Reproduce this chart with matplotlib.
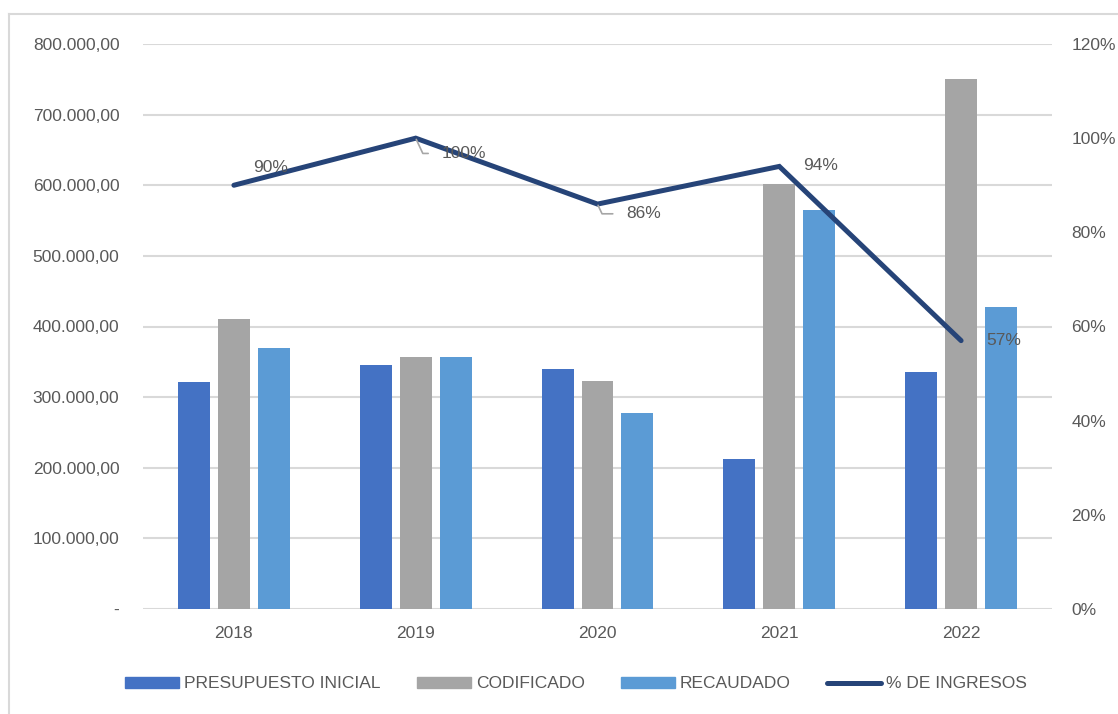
import matplotlib.pyplot as plt
import matplotlib.ticker as mticker
from matplotlib.lines import Line2D
import numpy as np

plt.rcParams['font.family'] = ['Liberation Sans', 'DejaVu Sans']

years = ['2018', '2019', '2020', '2021', '2022']
presupuesto = [321000, 345000, 339500, 212000, 335500]
codificado = [410000, 357500, 323000, 601500, 750500]
recaudado = [370000, 357500, 277500, 564500, 428000]
pct_ingresos = [0.90, 1.00, 0.86, 0.94, 0.57]

c_pi = '#4472C4'
c_cod = '#A5A5A5'
c_rec = '#5B9BD5'
c_line = '#264478'
txt = '#595959'
grid = '#D9D9D9'

fs = 12.5


def money_fmt(v, pos):
    if v == 0:
        return '-'
    s = f"{v:,.2f}"
    return s.replace(',', 'X').replace('.', ',').replace('X', '.')


fig = plt.figure(figsize=(11.18, 7.14), dpi=100)
ax = fig.add_axes([143 / 1118, 1 - 609 / 714, (1052 - 143) / 1118, (609 - 44) / 714])
ax2 = ax.twinx()

x = np.arange(len(years))
w = 0.176
step = 0.22
ax.bar(x - step, presupuesto, w, color=c_pi, zorder=2)
ax.bar(x, codificado, w, color=c_cod, zorder=2)
ax.bar(x + step, recaudado, w, color=c_rec, zorder=2)

ax.set_xlim(-0.5, len(years) - 0.5)
ax.set_ylim(0, 800000)
ax.set_yticks(np.arange(0, 800001, 100000))
ax.yaxis.set_major_formatter(mticker.FuncFormatter(money_fmt))
ax.set_xticks(x)
ax.set_xticklabels(years)
ax.grid(axis='y', color=grid, linewidth=1.5, zorder=0)
ax.tick_params(axis='both', length=0, labelsize=fs, colors=txt)
ax.tick_params(axis='y', pad=17)
ax.tick_params(axis='x', pad=12)
for sp in ax.spines.values():
    sp.set_visible(False)

ax2.plot(x, pct_ingresos, color=c_line, linewidth=3.6, solid_capstyle='round',
         solid_joinstyle='miter', zorder=3)
ax2.set_ylim(0, 1.2)
ax2.set_yticks(np.arange(0, 1.21, 0.2))
ax2.yaxis.set_major_formatter(mticker.PercentFormatter(1.0, decimals=0))
ax2.tick_params(axis='y', length=0, labelsize=fs, colors=txt, pad=14)
for sp in ax2.spines.values():
    sp.set_visible(False)

# data labels (offsets in points), leader lines on 2019 and 2020
offsets = [(14, 13), (19, -11), (21, -7), (17, 1), (18, 0)]
leaders = [False, True, True, False, False]
for i, v in enumerate(pct_ingresos):
    kw = {}
    if leaders[i]:
        kw['arrowprops'] = dict(arrowstyle='-', color='#A6A6A6', lw=1.2,
                                shrinkA=8, shrinkB=1, relpos=(0, 0.5),
                                connectionstyle='angle,angleA=0,angleB=-65,rad=0')
    ax2.annotate(f"{v:.0%}", xy=(i, v), xytext=offsets[i], textcoords='offset points',
                 ha='left', va='center', fontsize=fs, color=txt, zorder=4, **kw)

handles = [
    plt.Rectangle((0, 0), 1, 1, color=c_pi),
    plt.Rectangle((0, 0), 1, 1, color=c_cod),
    plt.Rectangle((0, 0), 1, 1, color=c_rec),
    Line2D([0], [0], color=c_line, linewidth=3.6, solid_capstyle='round'),
]
labels = ['PRESUPUESTO INICIAL', 'CODIFICADO', 'RECAUDADO', '% DE INGRESOS']
leg = fig.legend(handles, labels, loc='center', bbox_to_anchor=(576 / 1118, 1 - 684 / 714),
                 ncol=4, frameon=False, fontsize=fs, handlelength=3.1, handleheight=0.6,
                 handletextpad=0.3, columnspacing=2.1)
for t in leg.get_texts():
    t.set_color(txt)

# chart area border (top and left visible)
fig.add_artist(Line2D([9 / 1118, 1], [1 - 14 / 714, 1 - 14 / 714], color=grid, linewidth=1.5))
fig.add_artist(Line2D([9 / 1118, 9 / 1118], [0, 1 - 14 / 714], color=grid, linewidth=1.5))

fig.savefig('out.png', dpi=100)
